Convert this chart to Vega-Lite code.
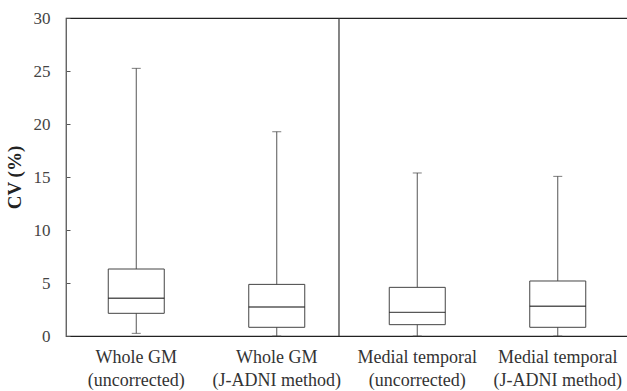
{
  "$schema": "https://vega.github.io/schema/vega-lite/v6.json",
  "width": 562,
  "height": 318,
  "autosize": "none",
  "padding": {"left": 66, "top": 18, "right": 0, "bottom": 55},
  "background": "white",
  "config": {
    "font": "Liberation Serif",
    "view": {"stroke": "#222", "strokeWidth": 1.2}
  },
  "data": {
    "values": [
      {"group": "Whole GM|(uncorrected)", "lower": 0.25, "q1": 2.14, "median": 3.56, "q3": 6.32, "upper": 25.25},
      {"group": "Whole GM|(J-ADNI method)", "lower": 0, "q1": 0.82, "median": 2.74, "q3": 4.87, "upper": 19.27},
      {"group": "Medial temporal|(uncorrected)", "lower": 0, "q1": 1.07, "median": 2.23, "q3": 4.59, "upper": 15.38},
      {"group": "Medial temporal|(J-ADNI method)", "lower": 0, "q1": 0.82, "median": 2.8, "q3": 5.19, "upper": 15.06}
    ]
  },
  "encoding": {
    "x": {
      "field": "group",
      "type": "nominal",
      "sort": null,
      "scale": {"paddingInner": 0, "paddingOuter": 0},
      "axis": {
        "title": null,
        "labelAngle": 0,
        "ticks": false,
        "domainColor": "#222",
        "domainWidth": 1.2,
        "labelFontSize": 18,
        "labelColor": "#333",
        "labelPadding": 12,
        "labelLineHeight": 23,
        "labelExpr": "split(datum.label, '|')"
      }
    }
  },
  "layer": [
    {
      "mark": {"type": "rule", "color": "#555", "strokeWidth": 1},
      "encoding": {
        "y": {
          "field": "lower",
          "type": "quantitative",
          "scale": {"domain": [0, 30], "nice": false},
          "axis": {
            "title": "CV (%)",
            "titleFontSize": 19,
            "titleFontWeight": "bold",
            "titleColor": "#222",
            "titleX": -42,
            "titleY": 159,
            "values": [0, 5, 10, 15, 20, 25, 30],
            "grid": false,
            "tickSize": -4,
            "tickColor": "#555",
            "labelPadding": 20,
            "labelFontSize": 17,
            "labelColor": "#444",
            "domainColor": "#666",
            "domainWidth": 1
          }
        },
        "y2": {"field": "upper"}
      }
    },
    {
      "mark": {"type": "bar", "fill": "white", "stroke": "#444", "strokeWidth": 1, "size": 56},
      "encoding": {
        "y": {"field": "q1", "type": "quantitative"},
        "y2": {"field": "q3"}
      }
    },
    {
      "mark": {"type": "tick", "color": "#111", "size": 56, "thickness": 1.4},
      "encoding": {"y": {"field": "median", "type": "quantitative"}}
    },
    {
      "mark": {"type": "tick", "color": "#444", "size": 9, "thickness": 1},
      "encoding": {"y": {"field": "upper", "type": "quantitative"}}
    },
    {
      "mark": {"type": "tick", "color": "#444", "size": 9, "thickness": 1},
      "encoding": {"y": {"field": "lower", "type": "quantitative"}}
    },
    {
      "transform": [{"filter": "datum.group == 'Whole GM|(J-ADNI method)'"}],
      "mark": {"type": "rule", "color": "#333", "strokeWidth": 1.2},
      "encoding": {
        "x": {"field": "group", "type": "nominal", "sort": null, "bandPosition": 0.943}
      }
    }
  ]
}
